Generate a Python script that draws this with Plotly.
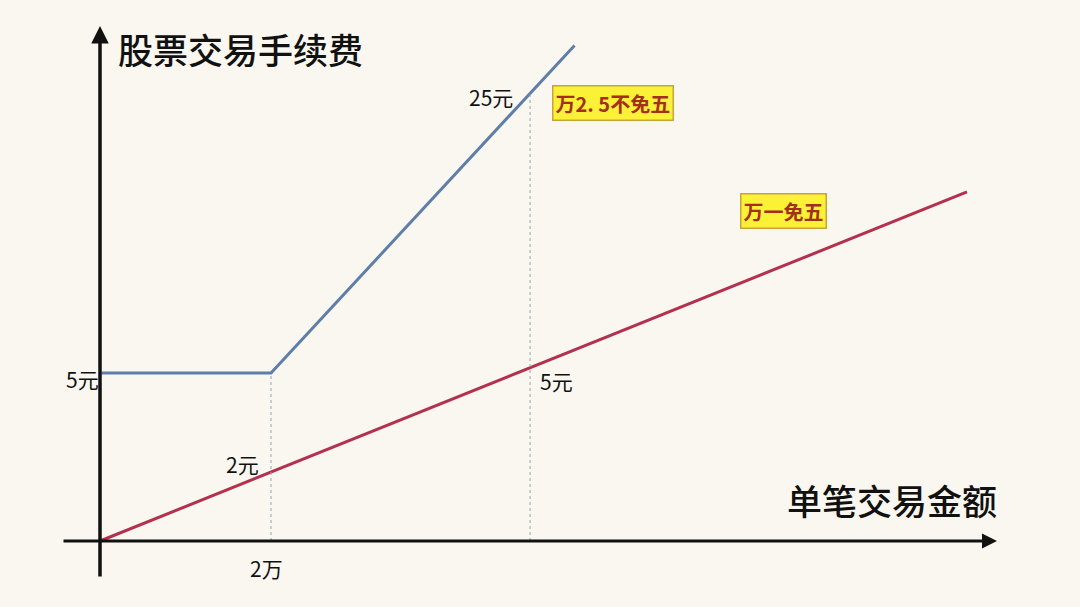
import plotly.graph_objects as go

# Schematic data (x in 万元 of trade amount, y in 元 of fee)
blue_x = [0, 2, 5.55]
blue_y = [5, 5, 14.75]
red_x = [0, 10.14]
red_y = [0, 10.39]
guide_x = [2, 5.03]
guide_top = [5, 13.3]

FONT = "Noto Sans CJK SC"
fig = go.Figure()

fig.add_trace(go.Scatter(x=blue_x, y=blue_y, mode="lines",
                         line=dict(color="#5f7fa8", width=3), hoverinfo="skip"))
fig.add_trace(go.Scatter(x=red_x, y=red_y, mode="lines",
                         line=dict(color="#b3314f", width=3), hoverinfo="skip"))
for gx, gt in zip(guide_x, guide_top):
    fig.add_trace(go.Scatter(x=[gx, gx], y=[0, gt], mode="lines",
                             line=dict(color="#9aa3ad", width=1, dash="dot"),
                             hoverinfo="skip"))

xr = [-100 / 85.5, 980 / 85.5]
yr = [-66 / 33.6, 541 / 33.6]

ann = []
# axes arrows
ann.append(dict(x=0, y=(541 - 26) / 33.6, ax=0, ay=(541 - 578) / 33.6,
                xref="x", yref="y", axref="x", ayref="y", text="", showarrow=True,
                arrowhead=2, arrowsize=1.0, arrowwidth=3.5, arrowcolor="#111"))
ann.append(dict(x=(997 - 100) / 85.5, y=0, ax=(62 - 100) / 85.5, ay=0,
                xref="x", yref="y", axref="x", ayref="y", text="", showarrow=True,
                arrowhead=2, arrowsize=1.0, arrowwidth=3, arrowcolor="#111"))


def txt(px, py, s, size=21, color="#111", weight="normal", **kw):
    d = dict(x=(px - 100) / 85.5, y=(541 - py) / 33.6, xref="x", yref="y", text=s,
             showarrow=False, font=dict(family=FONT, size=size, color=color, weight=weight))
    d.update(kw)
    return d


ann.append(txt(240, 48, "股票交易手续费", size=35, weight=500))
ann.append(txt(892, 499, "单笔交易金额", size=35, weight=500))
ann.append(txt(82, 379, "5元"))
ann.append(txt(266, 568, "2万"))
ann.append(txt(242, 464, "2元"))
ann.append(txt(556, 381, "5元"))
ann.append(txt(491, 97, "25元"))
ann.append(txt(613, 103, "<b>万2. 5不免五</b>", size=20, color="#a3301c",
               bgcolor="#fbf237", bordercolor="#c9a23a", borderwidth=1.5, borderpad=2))
ann.append(txt(783, 211, "<b>万一免五</b>", size=20, color="#a3301c",
               bgcolor="#fbf237", bordercolor="#c9a23a", borderwidth=1.5, borderpad=2))

fig.update_layout(
    width=1080, height=607, margin=dict(l=0, r=0, t=0, b=0),
    paper_bgcolor="#faf7f0", plot_bgcolor="#faf7f0", showlegend=False,
    xaxis=dict(range=xr, visible=False, fixedrange=True),
    yaxis=dict(range=yr, visible=False, fixedrange=True),
    annotations=ann,
)
fig.write_html("out.html", config={"displayModeBar": False},
               post_script="document.body.style.margin='0px';"
                           "document.body.style.background='#faf7f0';")
